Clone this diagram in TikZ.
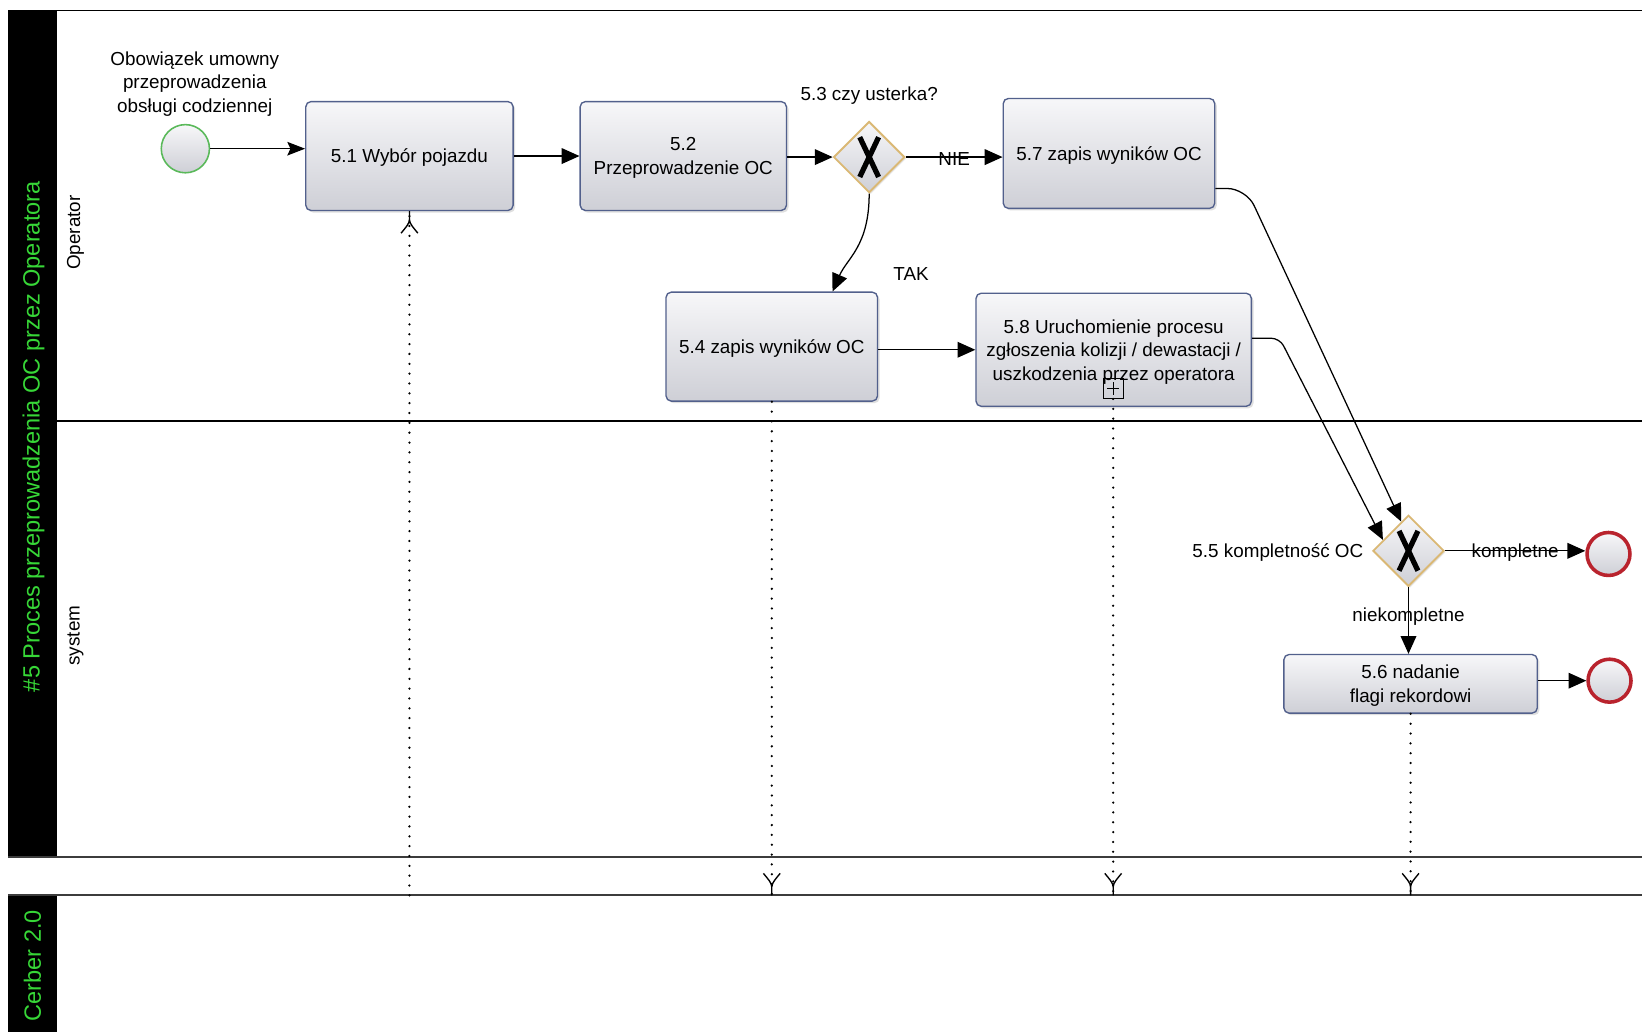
\documentclass[tikz,border=0pt]{standalone}
\usepackage{fontspec}
\setmainfont{Liberation Sans}
\usetikzlibrary{shapes.geometric,arrows.meta,shadows,decorations.markings,calc}
\definecolor{tasktop}{RGB}{247,247,249}
\definecolor{taskbot}{RGB}{206,207,214}
\definecolor{taskline}{RGB}{82,96,140}
\definecolor{gwline}{RGB}{218,184,116}
\definecolor{poolgreen}{RGB}{55,215,55}
\definecolor{startline}{RGB}{90,185,90}
\definecolor{endline}{RGB}{185,35,45}
\definecolor{poolline}{RGB}{60,60,60}
\begin{document}
\begin{tikzpicture}[x=1pt,y=-1pt,
  every node/.style={font=\fontsize{18}{22.5}\selectfont},
  task/.style={draw=taskline, line width=1.3pt, rounded corners=5pt,
    top color=tasktop, bottom color=taskbot, align=center, inner sep=2pt,
    text depth=0pt,
    drop shadow={shadow xshift=2pt,shadow yshift=-2pt,opacity=0.25}},
  gw/.style={diamond, aspect=1, draw=gwline, line width=1.8pt,
    minimum width=68pt, minimum height=68pt, inner sep=0pt,
    top color=tasktop, bottom color=taskbot,
    drop shadow={shadow xshift=1.5pt,shadow yshift=-1.5pt,opacity=0.2},
    path picture={
      \draw[black, line width=5pt] ([shift={(-9pt,-19pt)}]path picture bounding box.center) -- ([shift={(9pt,19pt)}]path picture bounding box.center);
      \draw[black, line width=5pt] ([shift={(-9pt,19pt)}]path picture bounding box.center) -- ([shift={(9pt,-19pt)}]path picture bounding box.center);
    }},
  startev/.style={circle, draw=startline, line width=1.5pt, minimum size=46pt,
    inner sep=0pt, top color=tasktop, bottom color=taskbot},
  endev/.style={circle, draw=endline, line width=3.4pt, minimum size=41pt,
    inner sep=0pt, top color=tasktop, bottom color=taskbot},
  flow/.style={draw, line width=1.2pt, -{Triangle[length=17pt,width=15pt]}},
  lbl/.style={inner sep=1pt, align=center},
  lane/.style={rotate=90, inner sep=0pt},
  pooltitle/.style={rotate=90, inner sep=0pt, text=poolgreen,
    font=\fontsize{22.5}{26}\selectfont},
  msg/.style={line width=2.4pt, dash pattern=on 0pt off 9.4pt, line cap=round,
    postaction={decorate, decoration={markings, mark=at position 1 with {
      \draw[solid, line width=1.3pt, line cap=butt]
        (0,0) -- (-8pt,0)
        .. controls (-12pt,0) and (-16pt,-4pt) .. (-21pt,-8pt)
        (-8pt,0) .. controls (-12pt,0) and (-16pt,4pt) .. (-21pt,8pt);
    }}}}
]
\useasboundingbox (0,0) rectangle (1568,985);
\fill[white] (0,0) rectangle (1568,985);

% pools and lanes
\fill[black] (8,10) rectangle (54,818);
\fill[black] (8,855) rectangle (54,985);
\draw[line width=1.4pt] (8,10) -- (1568,10);
\draw[line width=1.3pt] (54,402) -- (1568,402);
\draw[line width=2pt, poolline] (8,818) -- (1568,818);
\draw[line width=2pt, poolline] (8,855) -- (1568,855);
\coordinate (p2) at (0,855);

\node[pooltitle] (title) at (32,417) {\#5 Proces przeprowadzenia OC przez Operatora};
\node[pooltitle] (title2) at (31,922) {Cerber 2.0};
\node[lane] (laneop) at (72,222) {Operator};
\node[lane] (lanesys) at (72,607) {system};

% nodes
\node[startev] (st) at (177,142) {};
\node[lbl] (stlbl) at (186,80) {Obowiązek umowny\\przeprowadzenia\\obsługi codziennej};

\node[task, minimum width=198pt, minimum height=104pt] (t51) at (391,149) {5.1 Wybór pojazdu};
\node[task, minimum width=197pt, minimum height=104pt] (t52) at (652.5,149) {5.2\\Przeprowadzenie OC};
\node[gw] (g53) at (830,150) {};
\node[lbl] (g53lbl) at (830,91) {5.3 czy usterka?};
\node[task, minimum width=202pt, minimum height=105pt] (t57) at (1059,146.5) {5.7 zapis wyników OC};
\node[task, minimum width=202pt, minimum height=104pt] (t54) at (737,331) {5.4 zapis wyników OC};
\node[task, minimum width=263pt, minimum height=108pt] (t58) at (1063.5,334) {5.8 Uruchomienie procesu\\zgłoszenia kolizji / dewastacji /\\uszkodzenia przez operatora};
\node[draw, line width=1pt, minimum size=19pt, inner sep=0pt,
  path picture={
    \draw[line width=1pt] ([xshift=-6pt]path picture bounding box.center) -- ([xshift=6pt]path picture bounding box.center);
    \draw[line width=1pt] ([yshift=-6pt]path picture bounding box.center) -- ([yshift=6pt]path picture bounding box.center);
  }] (mk) at (1063,371) {};
\node[lbl] (tak) at (870,262) {TAK};

\node[gw] (g55) at (1345,526) {};
\node[lbl, anchor=east] (g55lbl) at (1303,528) {5.5 kompletność OC};
\node[endev] (e1) at (1536,529) {};
\node[task, minimum width=242pt, minimum height=56pt] (t56) at (1347,653) {5.6 nadanie\\flagi rekordowi};
\node[endev] (e2) at (1537,650) {};

% sequence flows
\draw[line width=1.2pt, -{Stealth[length=17pt,width=13pt,inset=3pt]}] (st.east) -- (st.east -| t51.west);
\draw[flow] (t51.east) -- (t52.west);
\draw[flow] (t52.east |- g53.west) -- (g53.west);
\draw[flow] (g53.east) -- (g53.east -| t57.west) node[lbl, midway, yshift=-2pt] {NIE};
\draw[flow] (g53.south) .. controls +(0,50) and +(14,-32) .. ([xshift=58pt]t54.north);
\draw[flow] (t54.east |- t58.west) -- (t58.west);
\draw[flow, rounded corners=18pt] (t57.east |- 0,180) -- (1190,180) -- ($(g55.north)!0.2!(g55.west)$);
\draw[flow, rounded corners=8pt] (t58.east |- 0,323) -- (1222,323) -- ($(g55.north)!0.7!(g55.west)$);
\draw[flow] (g55.east) -- (g55.east -| e1.west) node[lbl, midway, yshift=-2pt] {kompletne};
\draw[flow] (g55.south) -- (g55.south |- t56.north) node[lbl, midway, yshift=4pt] {niekompletne};
\draw[flow] (t56.east |- e2.west) -- (e2.west);

% message flows
\draw[msg] (t51.south |- p2) -- (t51.south);
\draw[msg] (t54.south) -- (t54.south |- p2);
\draw[msg] (mk.south) -- (mk.south |- p2);
\draw[msg] (t56.south) -- (t56.south |- p2);
\end{tikzpicture}
\end{document}
